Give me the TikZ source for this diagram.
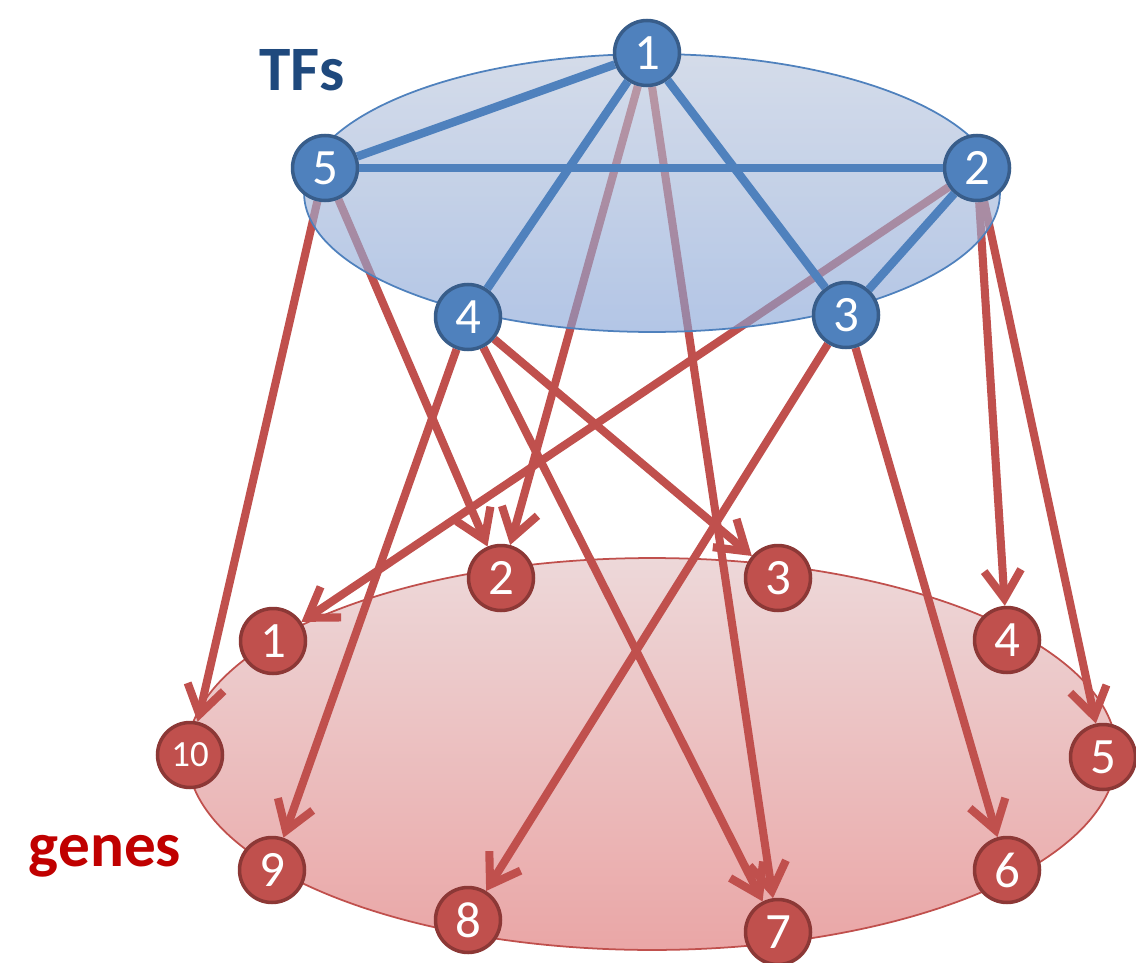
\documentclass[tikz,border=0pt]{standalone}
\usepackage{fontspec}
\setmainfont{Carlito}
\usetikzlibrary{arrows.meta}
\definecolor{tfblue}{HTML}{4F81BD}
\definecolor{tfborder}{HTML}{385D8A}
\definecolor{genered}{HTML}{C0504D}
\definecolor{geneborder}{HTML}{8C3836}
\definecolor{tflabel}{HTML}{1F497D}
\definecolor{genelabel}{HTML}{C00000}
\definecolor{blueelltop}{HTML}{BAC6DC}
\definecolor{blueellbot}{HTML}{84A2D6}
\definecolor{redelltop}{HTML}{EDD8D9}
\definecolor{redellbot}{HTML}{EAA6A6}
\pgfdeclarelayer{bg}
\pgfdeclarelayer{arrowlayer}
\pgfdeclarelayer{blueell}
\pgfsetlayers{bg,arrowlayer,blueell,main}
\begin{document}
\begin{tikzpicture}[x=0.02cm,y=-0.02cm,
  tfnode/.style={circle, fill=tfblue, draw=tfborder, line width=2pt,
    minimum size=1.3cm, inner sep=0pt, text=white,
    font=\fontsize{29}{29}\selectfont},
  genenode/.style={circle, fill=genered, draw=geneborder, line width=2pt,
    minimum size=1.3cm, inner sep=0pt, text=white,
    font=\fontsize{29}{29}\selectfont},
  tfedge/.style={tfblue, line width=4.8pt},
  regarrow/.style={genered, line width=4.6pt,
    -{Straight Barb[length=16pt,width=21pt]}},
  grouplabel/.style={font=\fontsize{36}{36}\selectfont\bfseries}
]
\useasboundingbox (0,0) rectangle (1136,963);

% TF nodes
\node[tfnode] (t1) at (647,53) {1};
\node[tfnode] (t5) at (325,168) {5};
\node[tfnode] (t2) at (977,168) {2};
\node[tfnode] (t4) at (468,317) {4};
\node[tfnode] (t3) at (846,315) {3};

% gene nodes
\node[genenode] (g2) at (501,578) {2};
\node[genenode] (g3) at (778,578) {3};
\node[genenode] (g1) at (273,641) {1};
\node[genenode] (g4) at (1007,640) {4};
\node[genenode, font=\fontsize{21}{21}\selectfont] (g10) at (190,755) {10};
\node[genenode] (g5) at (1103,757) {5};
\node[genenode] (g9) at (272,870) {9};
\node[genenode] (g6) at (1007,870) {6};
\node[genenode] (g8) at (468,920) {8};
\node[genenode] (g7) at (778,932) {7};

% labels
\node[grouplabel, text=tflabel] (tfs) at (302,70) {TFs};
\node[grouplabel, text=genelabel] (genes) at (105,856) {genes};

% red ellipse
\begin{pgfonlayer}{bg}
  \shade[top color=redelltop, bottom color=redellbot]
    (652,754) ellipse [x radius=9.3cm, y radius=3.92cm];
  \draw[genered, line width=1pt]
    (652,754) ellipse [x radius=9.3cm, y radius=3.92cm];
\end{pgfonlayer}

% regulation arrows
\begin{pgfonlayer}{arrowlayer}
  \draw[regarrow] (t5) -- (g10);
  \draw[regarrow] (t5) -- (g2);
  \draw[regarrow] (t1) -- (g2);
  \draw[regarrow] (t1) -- (g7);
  \draw[regarrow] (t4) -- (g9);
  \draw[regarrow] (t4) -- (g3);
  \draw[regarrow] (t4) -- (g7);
  \draw[regarrow] (t3) -- (g8);
  \draw[regarrow] (t3) -- (g6);
  \draw[regarrow] (t2) -- (g1);
  \draw[regarrow] (t2) -- (g4);
  \draw[regarrow] (t2) -- (g5);
\end{pgfonlayer}

% blue ellipse
\begin{pgfonlayer}{blueell}
  \shade[top color=blueelltop, bottom color=blueellbot, fill opacity=0.62]
    (652,193) ellipse [x radius=6.96cm, y radius=2.78cm];
  \draw[tfblue, line width=1pt]
    (652,193) ellipse [x radius=6.96cm, y radius=2.78cm];
\end{pgfonlayer}

% TF interactions
\draw[tfedge] (t1) -- (t5);
\draw[tfedge] (t5) -- (t2);
\draw[tfedge] (t1) -- (t4);
\draw[tfedge] (t1) -- (t3);
\draw[tfedge] (t3) -- (t2);
\end{tikzpicture}
\end{document}
